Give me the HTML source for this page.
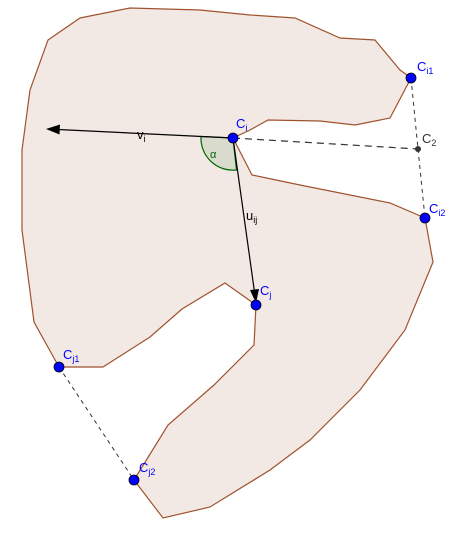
<!DOCTYPE html>
<html><head><meta charset="utf-8"><style>
body{margin:0;background:#fff;width:453px;height:535px;overflow:hidden}
svg{display:block;font-family:"Liberation Sans",sans-serif}
.b{fill:#0000ff;font-size:13px}
.s{font-size:9px}
</style></head><body>
<svg width="453" height="535" viewBox="0 0 453 535">
<polygon fill="#f3e9e4" stroke="#a0522d" stroke-width="1.2"
points="59,367 34,322 22,230 22,150 30,90 48,40 80,18 130,8 200,10 250,15 295,18 340,38 375,40 400,70 411,78 390,118 355,125 320,121 268,120 250,130 233,138 252,175 300,185 390,203 425,218 433,262 405,330 360,390 310,440 270,470 210,507 163,518 134,480 168,425 214,385 254,345 256,305 225,283 182,309 150,337 103,367"/>
<path d="M233,138 L201,136.5 A32,32 0 0 0 236.5,170 Z" fill="#d9dccc" stroke="#006400" stroke-width="1.2"/>
<g stroke="#333" stroke-width="1.2" stroke-dasharray="7,5" fill="none">
<line x1="233" y1="138" x2="418" y2="149"/>
</g>
<g stroke="#333" stroke-width="1" stroke-dasharray="4,4" fill="none">
<line x1="411" y1="78" x2="418" y2="149"/>
<line x1="418" y1="149" x2="425" y2="218"/>
<line x1="59" y1="367" x2="134" y2="480"/>
</g>
<line x1="233" y1="138" x2="58" y2="129.5" stroke="#000" stroke-width="1.2"/>
<polygon points="46,129 60,124.5 59.5,134.5" fill="#000"/>
<line x1="233" y1="138" x2="254.5" y2="292" stroke="#000" stroke-width="1.2"/>
<polygon points="256,303 250,290 259,289" fill="#000"/>
<text x="137" y="139" font-size="13">v<tspan class="s" dy="3">i</tspan></text>
<text x="210" y="158" font-size="11" fill="#006400">α</text>
<text x="246" y="220" font-size="13">u<tspan class="s" dy="3">ij</tspan></text>
<text x="422" y="143" font-size="13" fill="#333">C<tspan class="s" dy="3">2</tspan></text>
<g>
<circle cx="233" cy="138" r="5" fill="#0000ff" stroke="#000" stroke-width="0.8"/>
<circle cx="411" cy="78" r="5" fill="#0000ff" stroke="#000" stroke-width="0.8"/>
<circle cx="425" cy="218" r="5" fill="#0000ff" stroke="#000" stroke-width="0.8"/>
<circle cx="256" cy="305" r="5" fill="#0000ff" stroke="#000" stroke-width="0.8"/>
<circle cx="59" cy="367" r="5" fill="#0000ff" stroke="#000" stroke-width="0.8"/>
<circle cx="134" cy="480" r="5" fill="#0000ff" stroke="#000" stroke-width="0.8"/>
<circle cx="418" cy="149" r="3" fill="#333"/>
</g>
<text class="b" x="236" y="128">C<tspan class="s" dy="3">i</tspan></text>
<text class="b" x="417" y="71">C<tspan class="s" dy="3">i1</tspan></text>
<text class="b" x="429" y="213">C<tspan class="s" dy="3">i2</tspan></text>
<text class="b" x="260" y="295">C<tspan class="s" dy="3">j</tspan></text>
<text class="b" x="63" y="359">C<tspan class="s" dy="3">j1</tspan></text>
<text class="b" x="139" y="472">C<tspan class="s" dy="3">j2</tspan></text>
</svg>
</body></html>
